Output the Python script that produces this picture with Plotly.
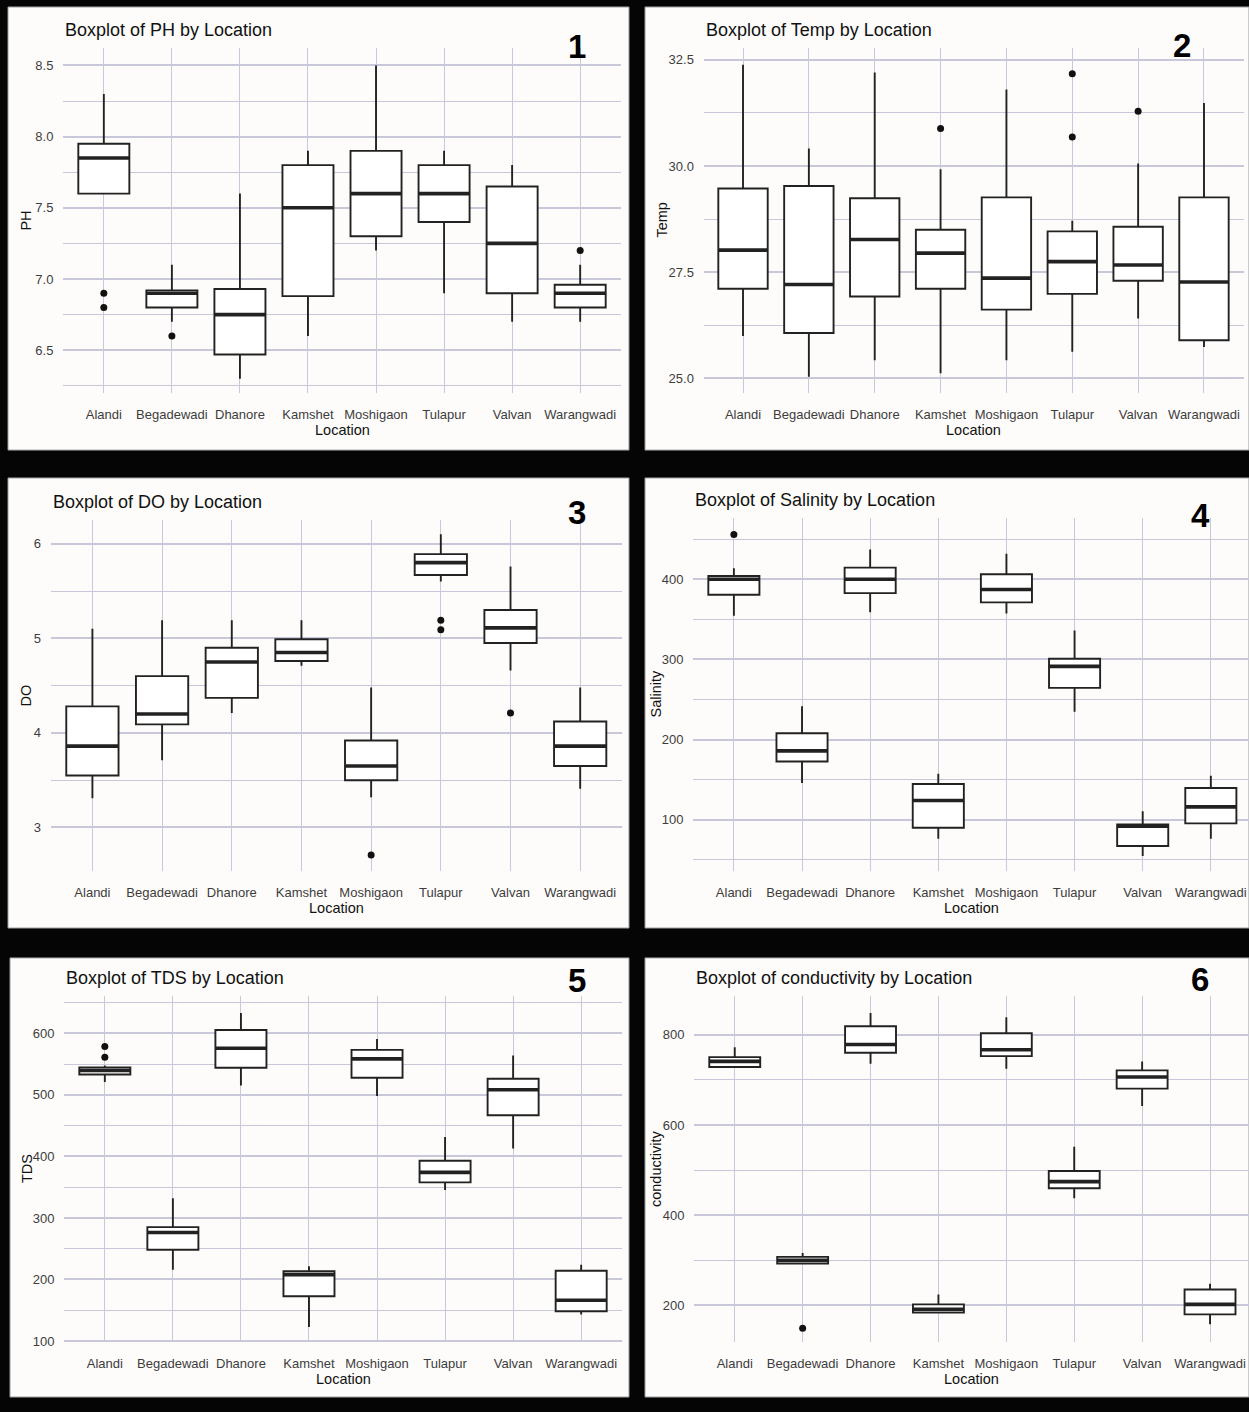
import plotly.graph_objects as go
from plotly.subplots import make_subplots

locations = ["Alandi", "Begadewadi", "Dhanore", "Kamshet", "Moshigaon", "Tulapur", "Valvan", "Warangwadi"]

# ---- PH ----
ph_q1 = [7.60, 6.80, 6.47, 6.88, 7.30, 7.40, 6.90, 6.80]
ph_median = [7.85, 6.90, 6.75, 7.50, 7.60, 7.60, 7.25, 6.90]
ph_q3 = [7.95, 6.92, 6.93, 7.80, 7.90, 7.80, 7.65, 6.96]
ph_low = [7.60, 6.70, 6.30, 6.60, 7.20, 6.90, 6.70, 6.70]
ph_high = [8.30, 7.10, 7.60, 7.90, 8.50, 7.90, 7.80, 7.10]
ph_out_loc = ["Alandi", "Alandi", "Begadewadi", "Warangwadi"]
ph_out_val = [6.90, 6.80, 6.60, 7.20]

# ---- Temp ----
temp_q1 = [27.11, 26.07, 26.93, 27.11, 26.62, 26.99, 27.30, 25.90]
temp_median = [28.02, 27.21, 28.27, 27.95, 27.36, 27.75, 27.67, 27.27]
temp_q3 = [29.47, 29.53, 29.24, 28.50, 29.26, 28.46, 28.57, 29.26]
temp_low = [26.00, 25.04, 25.43, 25.12, 25.43, 25.63, 26.41, 25.74]
temp_high = [32.38, 30.41, 32.20, 29.92, 31.80, 28.71, 30.06, 31.48]
temp_out_loc = ["Kamshet", "Tulapur", "Tulapur", "Valvan"]
temp_out_val = [30.88, 32.17, 30.68, 31.29]

# ---- DO ----
do_q1 = [3.55, 4.09, 4.37, 4.76, 3.50, 5.67, 4.95, 3.65]
do_median = [3.86, 4.20, 4.75, 4.85, 3.65, 5.80, 5.11, 3.86]
do_q3 = [4.28, 4.60, 4.90, 4.99, 3.92, 5.89, 5.30, 4.12]
do_low = [3.31, 3.71, 4.21, 4.71, 3.32, 5.60, 4.66, 3.41]
do_high = [5.10, 5.19, 5.19, 5.19, 4.48, 6.10, 5.76, 4.48]
do_out_loc = ["Moshigaon", "Tulapur", "Tulapur", "Valvan"]
do_out_val = [2.71, 5.19, 5.09, 4.21]

# ---- Salinity ----
sal_q1 = [380.6, 172.7, 382.6, 90.1, 371.1, 264.5, 67.4, 95.5]
sal_median = [400.0, 186.0, 400.0, 124.0, 387.2, 291.3, 92.1, 116.1]
sal_q3 = [404.0, 207.9, 414.5, 144.6, 406.2, 300.8, 94.2, 139.7]
sal_low = [354.5, 145.9, 358.7, 76.4, 357.4, 234.7, 55.0, 76.4]
sal_high = [413.6, 241.7, 437.2, 157.4, 431.8, 336.0, 110.7, 155.0]
sal_out_loc = ["Alandi"]
sal_out_val = [455.8]

# ---- TDS ----
tds_q1 = [533.1, 248.3, 543.9, 172.8, 527.7, 357.8, 466.8, 148.5]
tds_median = [539.6, 276.4, 575.7, 207.9, 558.5, 374.0, 508.3, 166.3]
tds_q3 = [544.4, 285.0, 605.4, 213.3, 573.0, 392.9, 526.1, 214.3]
tds_low = [520.7, 216.0, 515.3, 122.7, 498.0, 345.4, 412.8, 143.0]
tds_high = [547.7, 331.9, 632.9, 221.4, 590.8, 431.7, 563.9, 224.0]
tds_out_loc = ["Alandi", "Alandi"]
tds_out_val = [578.4, 561.2]

# ---- Conductivity ----
con_q1 = [728.6, 292.6, 760.2, 183.7, 752.9, 459.8, 680.7, 180.0]
con_median = [741.1, 300.0, 778.6, 191.0, 766.9, 474.5, 706.5, 202.1]
con_q3 = [750.7, 307.4, 819.0, 202.1, 803.7, 498.1, 721.2, 235.2]
con_low = [728.6, 292.6, 735.9, 183.7, 724.9, 437.7, 642.4, 157.9]
con_high = [772.8, 316.2, 848.6, 224.2, 839.0, 551.8, 741.1, 247.7]
con_out_loc = ["Begadewadi"]
con_out_val = [149.0]

W, H = 1249, 1412
FONT = "Liberation Sans, Arial, sans-serif"

panels = [
    dict(var="PH", num="1", q1=ph_q1, med=ph_median, q3=ph_q3, lo=ph_low, hi=ph_high,
         oloc=ph_out_loc, oval=ph_out_val,
         px=(63, 621), py=(48, 395), xr=(-0.6, 7.6), yr=(6.197, 8.624),
         dtick=0.5, fmt=".1f", tick0=6.5, card=(8, 7, 629, 452), numpos=(577, 47), ytx=26),
    dict(var="Temp", num="2", q1=temp_q1, med=temp_median, q3=temp_q3, lo=temp_low, hi=temp_high,
         oloc=temp_out_loc, oval=temp_out_val,
         px=(703.5, 1243.5), py=(48, 395), xr=(-0.6, 7.6), yr=(24.65, 32.78),
         dtick=2.5, fmt=".1f", tick0=25, card=(645, 7, 1249, 452), numpos=(1182, 46), ytx=662),
    dict(var="DO", num="3", q1=do_q1, med=do_median, q3=do_q3, lo=do_low, hi=do_high,
         oloc=do_out_loc, oval=do_out_val,
         px=(50.6, 622), py=(522, 875), xr=(-0.6, 7.6), yr=(2.537, 6.253),
         dtick=1, fmt="d", tick0=3, card=(8, 480, 629, 932), numpos=(577, 515), ytx=26),
    dict(var="Salinity", num="4", q1=sal_q1, med=sal_median, q3=sal_q3, lo=sal_low, hi=sal_high,
         oloc=sal_out_loc, oval=sal_out_val,
         px=(693, 1249), py=(520, 875), xr=(-0.6, 7.56), yr=(35.8, 476.6),
         dtick=100, fmt="d", tick0=100, card=(645, 480, 1249, 932), numpos=(1200, 518), ytx=656),
    dict(var="TDS", num="5", q1=tds_q1, med=tds_median, q3=tds_q3, lo=tds_low, hi=tds_high,
         oloc=tds_out_loc, oval=tds_out_val,
         px=(64, 622), py=(1000, 1348), xr=(-0.6, 7.6), yr=(98, 661),
         dtick=100, fmt="d", tick0=100, card=(10, 962, 629, 1403), numpos=(577, 985), ytx=27),
    dict(var="conductivity", num="6", q1=con_q1, med=con_median, q3=con_q3, lo=con_low, hi=con_high,
         oloc=con_out_loc, oval=con_out_val,
         px=(694, 1249), py=(1000, 1348), xr=(-0.6, 7.574), yr=(118, 886.8),
         dtick=200, fmt="d", tick0=200, card=(645, 962, 1249, 1403), numpos=(1200, 984), ytx=656),
]

fig = make_subplots(rows=3, cols=2)

shapes = []
annotations = []
BOX_LINE = "#222222"
GRID = "#c8c8da"

for i, p in enumerate(panels):
    r, c = i // 2 + 1, i % 2 + 1
    n = "" if i == 0 else str(i + 1)
    fig.add_trace(go.Box(
        x=locations, q1=p["q1"], median=p["med"], q3=p["q3"],
        lowerfence=p["lo"], upperfence=p["hi"],
        fillcolor="white", line=dict(color=BOX_LINE, width=1.9),
        boxpoints=False, whiskerwidth=0, showlegend=False, hoverinfo="skip",
    ), row=r, col=c)
    # thicker median line (line-ew marker length is 1.4 x size)
    span_px = p["px"][1] - p["px"][0]
    box_px = 0.75 * span_px / (p["xr"][1] - p["xr"][0])
    fig.add_trace(go.Scatter(
        x=locations, y=p["med"], mode="markers",
        marker=dict(symbol="line-ew", size=box_px / 1.4, line=dict(color=BOX_LINE, width=3.6)),
        showlegend=False, hoverinfo="skip",
    ), row=r, col=c)
    fig.add_trace(go.Scatter(
        x=p["oloc"], y=p["oval"], mode="markers",
        marker=dict(symbol="circle", size=7, color="#111111"),
        showlegend=False, hoverinfo="skip",
    ), row=r, col=c)

    fig.layout["xaxis" + n].update(
        domain=[p["px"][0] / W, p["px"][1] / W], range=list(p["xr"]),
        showgrid=True, gridcolor=GRID, gridwidth=1, zeroline=False, showline=False,
        ticks="outside", ticklen=9, tickcolor="rgba(0,0,0,0)",
        tickfont=dict(family=FONT, size=13, color="#3d3d3d"),
        categoryorder="array", categoryarray=locations,
    )
    fig.layout["yaxis" + n].update(
        domain=[1 - p["py"][1] / H, 1 - p["py"][0] / H], range=list(p["yr"]),
        showgrid=True, gridcolor=GRID, gridwidth=1.6, zeroline=False, showline=False,
        tick0=p["tick0"], dtick=p["dtick"], tickformat=p["fmt"],
        ticks="outside", ticklen=6, tickcolor="rgba(0,0,0,0)",
        tickfont=dict(family=FONT, size=13, color="#3d3d3d"),
        minor=dict(dtick=p["dtick"] / 2, tick0=p["tick0"], showgrid=True,
                   gridcolor=GRID, gridwidth=1.4),
    )

    x0, y0, x1, y1 = p["card"]
    shapes.append(dict(type="rect", xref="paper", yref="paper", layer="below",
                       x0=x0 / W, x1=x1 / W, y0=1 - y1 / H, y1=1 - y0 / H,
                       fillcolor="#fdfcfb", line=dict(color="#9a9a9a", width=1)))
    # title
    annotations.append(dict(text=f"Boxplot of {p['var']} by Location", xref="paper", yref="paper",
                            x=p["px"][0] / W, y=1 - (p["py"][0] - 18) / H, xanchor="left",
                            yanchor="middle", showarrow=False,
                            font=dict(family=FONT, size=18, color="#111111")))
    # panel number
    annotations.append(dict(text=f"<b>{p['num']}</b>", xref="paper", yref="paper",
                            x=p["numpos"][0] / W, y=1 - p["numpos"][1] / H,
                            xanchor="center", yanchor="middle", showarrow=False,
                            font=dict(family=FONT, size=33, color="#000000")))
    # x axis title
    annotations.append(dict(text="Location", xref="paper", yref="paper",
                            x=(p["px"][0] + min(p["px"][1], 1252)) / 2 / W,
                            y=1 - (p["py"][1] + 37) / H, xanchor="center", yanchor="middle",
                            showarrow=False, font=dict(family=FONT, size=14.5, color="#111111")))
    # y axis title
    annotations.append(dict(text=p["var"], xref="paper", yref="paper", textangle=-90,
                            x=p["ytx"] / W, y=1 - (p["py"][0] + p["py"][1]) / 2 / H,
                            xanchor="center", yanchor="middle", showarrow=False,
                            font=dict(family=FONT, size=14.5, color="#111111")))

fig.update_layout(
    width=W, height=H, margin=dict(l=0, r=0, t=0, b=0),
    paper_bgcolor="#050505", plot_bgcolor="#fdfcfb",
    boxgap=0.25, boxgroupgap=0, boxmode="overlay", showlegend=False,
    shapes=shapes, annotations=annotations,
    font=dict(family=FONT),
)

fig.write_html(
    "out.html",
    config={"displayModeBar": False},
    post_script="document.body.style.margin='0';document.body.style.background='#050505';",
)
